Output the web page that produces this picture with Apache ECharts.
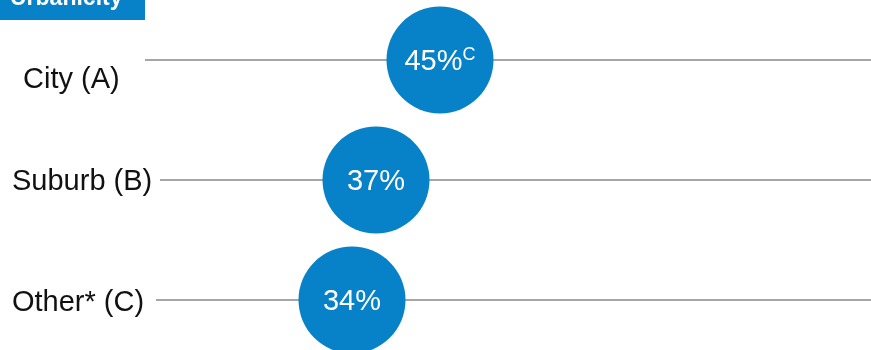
<!DOCTYPE html>
<html>
<head>
<meta charset="utf-8">
<script src="https://cdn.jsdelivr.net/npm/echarts@6/dist/echarts.min.js"></script>
<style>
  html, body { margin: 0; padding: 0; background: #fff; }
  #chart { width: 871px; height: 350px; }
</style>
</head>
<body>
<div id="chart"></div>
<script>
const categories = ['City (A)', 'Suburb (B)', 'Other* (C)'];
const values = [45, 37, 34];
const sigLetters = ['C', '', ''];

// row layout (pixels)
const labelLeft = [23, 12, 12];
const labelDy = [20, 2, 3];
const lineStart = [145, 160, 156];

const blue = '#0781C8';
const font = '"Liberation Sans", Arial, sans-serif';

const chart = echarts.init(document.getElementById('chart'));

chart.setOption({
  animation: false,
  grid: { left: 80, right: 71, top: 60, bottom: 50 },
  xAxis: { type: 'value', min: 0, max: 90, show: false },
  yAxis: { type: 'category', data: categories, inverse: true, boundaryGap: false, show: false },
  graphic: [
    { type: 'rect', shape: { x: 0, y: 0, width: 145, height: 20 }, style: { fill: blue } },
    {
      type: 'text', x: 10, y: -1,
      style: { text: 'Urbanicity', fill: '#fff', fontSize: 23, fontWeight: 'bold', fontFamily: font, verticalAlign: 'middle' }
    }
  ],
  series: [
    {
      type: 'custom',
      z: 1,
      silent: true,
      clip: false,
      data: categories.map((c, i) => [0, i]),
      renderItem: function (params, api) {
        const i = params.dataIndex;
        const y = api.coord([0, api.value(1)])[1];
        return {
          type: 'group',
          children: [
            {
              type: 'line',
              shape: { x1: lineStart[i], y1: y, x2: api.getWidth(), y2: y },
              style: { stroke: '#888888', lineWidth: 1.5 }
            },
            {
              type: 'text',
              style: {
                text: categories[i], x: labelLeft[i], y: y + labelDy[i],
                verticalAlign: 'middle', fill: '#111', fontSize: 29, fontFamily: font
              }
            }
          ]
        };
      }
    },
    {
      type: 'scatter',
      z: 3,
      clip: false,
      symbol: 'circle',
      symbolSize: 107,
      itemStyle: { color: blue, opacity: 1 },
      data: values.map((v, i) => [v, i]),
      label: {
        show: true,
        position: 'inside',
        offset: [0, 2],
        formatter: function (p) {
          const s = sigLetters[p.dataIndex];
          return '{v|' + values[p.dataIndex] + '%}' + (s ? '{s|' + s + '}' : '');
        },
        rich: {
          v: { color: '#fff', fontSize: 29, fontFamily: font, lineHeight: 32 },
          s: { color: '#fff', fontSize: 18, fontFamily: font, lineHeight: 30, verticalAlign: 'top' }
        }
      }
    }
  ]
});
</script>
</body>
</html>
